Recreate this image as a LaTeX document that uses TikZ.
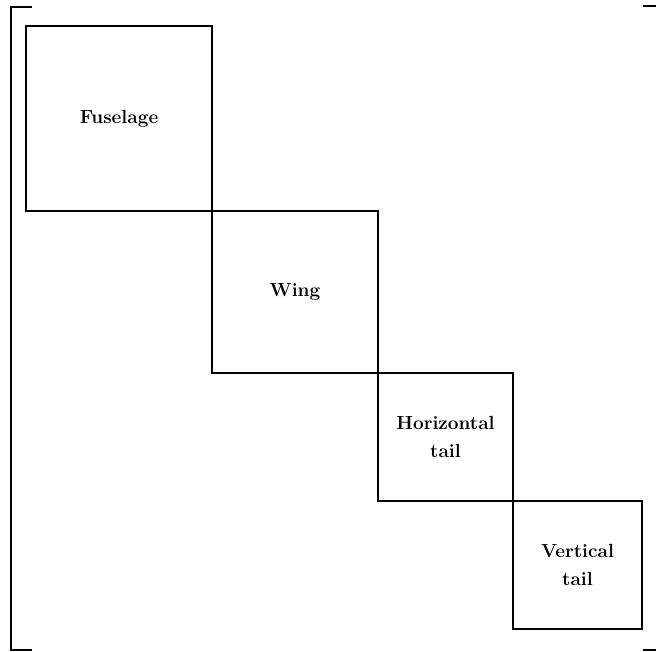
\documentclass[tikz,border=0pt]{standalone}
\usepackage{tikz}
\usetikzlibrary{positioning}

\begin{document}
\begin{tikzpicture}[
  x=1pt, y=-1pt, line width=1.5pt,
  part/.style={rectangle, draw, align=center, inner sep=0pt, outer sep=0pt,
               font=\fontsize{19}{28}\selectfont\bfseries}]
  \useasboundingbox (0,0) rectangle (656,651);
  % bracket frame
  \draw (32,7) -- (11,7) -- (11,650) -- (32,650);
  \draw (643,6) -- (656,6);
  \draw (643,650) -- (656,650);
  % component blocks on the diagonal
  \node[part, minimum width=186pt, minimum height=185pt, anchor=north west] (fus) at (26,26) {Fuselage};
  \node[part, minimum width=166pt, minimum height=162pt, below right=0pt and 0pt of fus] (wing) {Wing};
  \node[part, minimum width=135pt, minimum height=128pt, below right=0pt and 0pt of wing] (htail) {Horizontal\\tail};
  \node[part, minimum width=129pt, minimum height=128pt, below right=0pt and 0pt of htail] (vtail) {Vertical\\tail};
\end{tikzpicture}
\end{document}
